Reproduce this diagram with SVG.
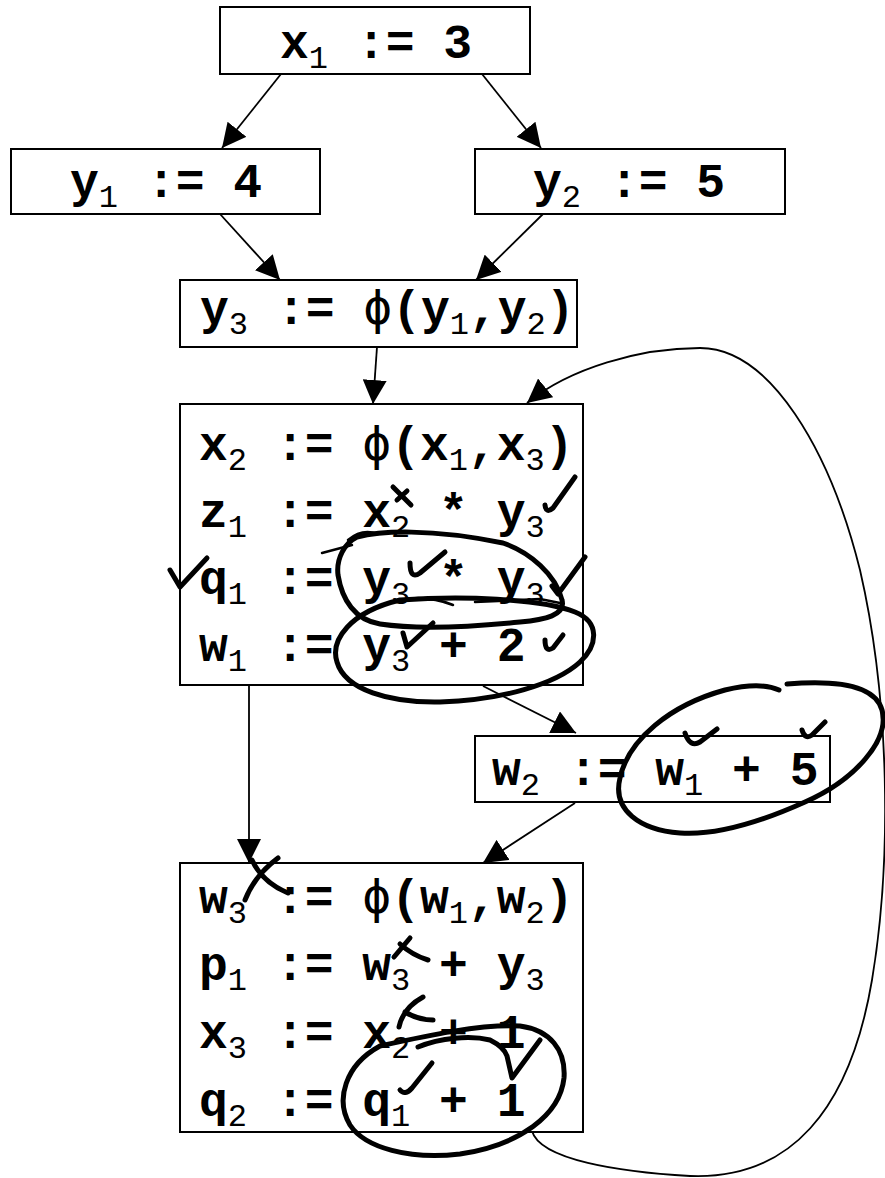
<svg xmlns="http://www.w3.org/2000/svg" width="885" height="1178" viewBox="0 0 885 1178">
<style>
.box{fill:#fff;stroke:#000;stroke-width:2}
.t{font-family:"Liberation Mono","Courier New",monospace;font-weight:bold;font-size:48px;fill:#000}
.s{font-weight:normal;font-size:32px}
.p{font-family:"DejaVu Sans Mono","Liberation Mono",monospace;font-weight:normal}
.c{fill:none;stroke:#000;stroke-width:1.8}
.hw{fill:none;stroke:#000;stroke-width:5;stroke-linecap:round;stroke-linejoin:round}
.hwt{fill:none;stroke:#000;stroke-width:2.5;stroke-linecap:round;stroke-linejoin:round}
</style>
<defs>
<marker id="ah" viewBox="0 0 24 24" refX="24" refY="12" markerWidth="24" markerHeight="24" markerUnits="userSpaceOnUse" orient="auto"><path d="M0,0 L24,12 L0,24 z" fill="#000"/></marker>
</defs>
<rect width="885" height="1178" fill="#fff"/>
<g id="connectors">
<path class="c" d="M281,74 L222,148" marker-end="url(#ah)"/>
<path class="c" d="M482,74 L541,148" marker-end="url(#ah)"/>
<path class="c" d="M220,214 L280,280" marker-end="url(#ah)"/>
<path class="c" d="M543,214 L476,280" marker-end="url(#ah)"/>
<path class="c" d="M377,347 L373,404" marker-end="url(#ah)"/>
<path class="c" d="M483,686 L576,733" marker-end="url(#ah)"/>
<path class="c" d="M249,685 L249,863" marker-end="url(#ah)"/>
<path class="c" d="M575,803 L483,863" marker-end="url(#ah)"/>
<path class="c" d="M532,1131 C540,1160 620,1172 690,1176 C790,1180 850,1110 872,980 C892,860 890,700 860,570 C830,450 770,348 700,348 C640,348 570,368 527,403" marker-end="url(#ah)"/>
</g>
<g id="n_x1">
<rect class="box" x="220" y="7" width="310" height="67"/>
<text class="t" x="280" y="58">x<tspan class="s" dy="10">1</tspan><tspan dy="-10"> := 3</tspan></text>
</g>
<g id="n_y1">
<rect class="box" x="11" y="149" width="309" height="65"/>
<text class="t" x="70" y="197">y<tspan class="s" dy="10">1</tspan><tspan dy="-10"> := 4</tspan></text>
</g>
<g id="n_y2">
<rect class="box" x="475" y="149" width="310" height="65"/>
<text class="t" x="533" y="197">y<tspan class="s" dy="10">2</tspan><tspan dy="-10"> := 5</tspan></text>
</g>
<g id="n_y3">
<rect class="box" x="180" y="280" width="397" height="67"/>
<text class="t" x="200" y="324">y<tspan class="s" dy="10">3</tspan><tspan dy="-10"> := </tspan><tspan class="p">ϕ</tspan>(y<tspan class="s" dy="10">1</tspan><tspan dy="-10">,y</tspan><tspan class="s" dy="10">2</tspan><tspan dy="-10">)</tspan></text>
</g>
<g id="n_loop">
<rect class="box" x="180" y="404" width="403" height="281"/>
<text class="t" x="199" y="460">x<tspan class="s" dy="10">2</tspan><tspan dy="-10"> := </tspan><tspan class="p">ϕ</tspan>(x<tspan class="s" dy="10">1</tspan><tspan dy="-10">,x</tspan><tspan class="s" dy="10">3</tspan><tspan dy="-10">)</tspan></text>
<text class="t" x="199" y="527">z<tspan class="s" dy="10">1</tspan><tspan dy="-10"> := x</tspan><tspan class="s" dy="10">2</tspan><tspan dy="-10"> * y</tspan><tspan class="s" dy="10">3</tspan></text>
<text class="t" x="199" y="594">q<tspan class="s" dy="10">1</tspan><tspan dy="-10"> := y</tspan><tspan class="s" dy="10">3</tspan><tspan dy="-10"> * y</tspan><tspan class="s" dy="10">3</tspan></text>
<text class="t" x="199" y="661">w<tspan class="s" dy="10">1</tspan><tspan dy="-10"> := y</tspan><tspan class="s" dy="10">3</tspan><tspan dy="-10"> + 2</tspan></text>
</g>
<g id="n_w2">
<rect class="box" x="475" y="736" width="355" height="66"/>
<text class="t" x="492" y="785">w<tspan class="s" dy="10">2</tspan><tspan dy="-10"> := w</tspan><tspan class="s" dy="10">1</tspan><tspan dy="-10"> + 5</tspan></text>
</g>
<g id="n_exit">
<rect class="box" x="180" y="863" width="403" height="269"/>
<text class="t" x="199" y="913">w<tspan class="s" dy="10">3</tspan><tspan dy="-10"> := </tspan><tspan class="p">ϕ</tspan>(w<tspan class="s" dy="10">1</tspan><tspan dy="-10">,w</tspan><tspan class="s" dy="10">2</tspan><tspan dy="-10">)</tspan></text>
<text class="t" x="199" y="980">p<tspan class="s" dy="10">1</tspan><tspan dy="-10"> := w</tspan><tspan class="s" dy="10">3</tspan><tspan dy="-10"> + y</tspan><tspan class="s" dy="10">3</tspan></text>
<text class="t" x="199" y="1048">x<tspan class="s" dy="10">3</tspan><tspan dy="-10"> := x</tspan><tspan class="s" dy="10">2</tspan><tspan dy="-10"> + 1</tspan></text>
<text class="t" x="199" y="1116">q<tspan class="s" dy="10">2</tspan><tspan dy="-10"> := q</tspan><tspan class="s" dy="10">1</tspan><tspan dy="-10"> + 1</tspan></text>
</g>
<g id="annotations">
<path class="hw" d="M393,487 L411,505 M397,500 L407,491"/>
<path class="hw" d="M545,505 Q546,514 553,508 L575,477"/>
<path class="hw" d="M170,570 L180,587 L207,558"/>
<path class="hw" d="M357,537 C380,531 430,528 503,543 C530,552 556,575 562,600 C566,615 545,620 520,622 C480,626 420,630 380,624 C355,620 342,600 338,575 C336,558 345,543 357,537"/>
<path class="hwt" d="M322,553 L352,545 M348,540 Q362,528 378,534"/>
<path class="hw" d="M410,563 Q410,580 420,573 L445,552"/>
<path class="hwt" d="M367,613 Q410,588 453,605"/>
<path class="hwt" d="M475,602 L540,599 L560,603"/>
<path class="hw" d="M552,586 L558,594 L585,557"/>
<path class="hw" d="M400,600 C460,596 540,598 575,612 C600,622 598,645 580,662 C555,685 500,700 440,702 C390,703 345,690 337,662 C330,640 350,612 400,600"/>
<path class="hw" d="M545,640 Q545,653 553,648 L563,635"/>
<path class="hw" d="M403,633 L407,647 L433,623"/>
<path class="hw" d="M787,684 C835,680 875,685 882,710 C890,740 855,780 805,802 C765,820 720,836 680,833 C640,830 612,810 620,778 C628,740 670,705 725,690 C750,684 768,685 779,690"/>
<path class="hw" d="M685,733 Q690,748 700,742 L717,729 M802,730 Q805,740 812,735 L825,722"/>
<path class="hw" d="M245,900 Q255,875 278,858 M252,860 Q262,882 288,893"/>
<path class="hw" d="M394,957 L410,938 M400,944 Q412,955 428,960"/>
<path class="hw" d="M399,1027 Q403,1008 423,997 M405,1012 Q418,1020 433,1020"/>
<path class="hw" d="M380,1046 C430,1035 480,1024 520,1026 C550,1030 566,1050 564,1078 C560,1115 520,1145 460,1154 C410,1160 365,1148 350,1125 C335,1100 345,1065 380,1046"/>
<path class="hw" d="M418,1047 C440,1038 470,1035 490,1040 C500,1045 505,1050 507,1056 L512,1078 L540,1040"/>
<path class="hw" d="M400,1090 Q405,1096 412,1088 L432,1063"/>
</g>
</svg>
